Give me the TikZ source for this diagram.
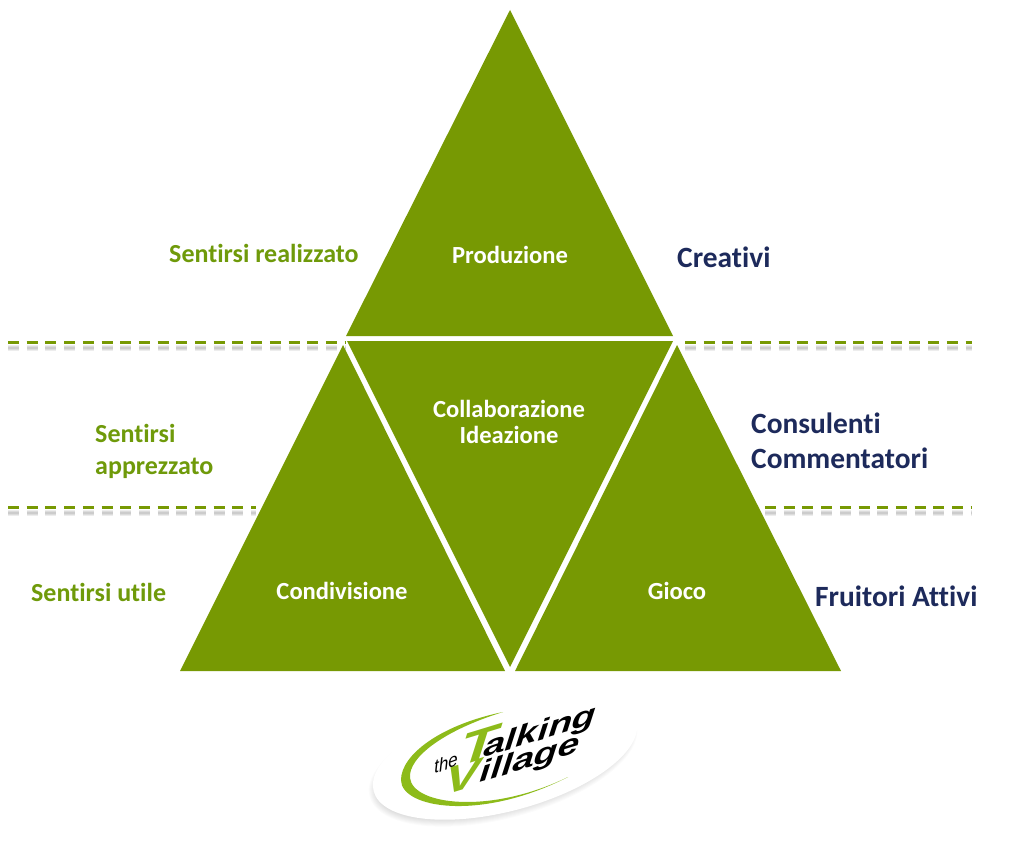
\documentclass[tikz,border=0pt]{standalone}
\usepackage{fontspec}
\setmainfont{Carlito}[Ligatures=NoCommon]
\newfontfamily\logofont{Liberation Sans}
\definecolor{leaf}{HTML}{779903}
\definecolor{leaftext}{HTML}{6F9A0A}
\definecolor{navy}{HTML}{1D2A5B}
\definecolor{lime}{HTML}{8DBB1A}
\begin{document}
\begin{tikzpicture}[x=1pt,y=-1pt]
\tikzstyle{wedge}=[fill=leaf]
\tikzstyle{inside}=[text=white,font=\fontsize{24.6}{26}\selectfont\bfseries,align=center,inner sep=0pt]
\tikzstyle{feeling}=[text=leaftext,font=\fontsize{26}{32}\selectfont\bfseries,align=left,inner sep=0pt,anchor=west]
\tikzstyle{people}=[text=navy,font=\fontsize{29.4}{35}\selectfont\bfseries,align=left,inner sep=0pt,anchor=west]
\tikzstyle{level}=[draw=leaf,line width=3pt,dash pattern=on 11pt off 7.7pt]
\tikzstyle{levelshadow}=[draw=black,opacity=0.07,dash pattern=on 11pt off 7.7pt]
\tikzstyle{brand}=[inner sep=0pt,rotate=17,xslant=0.4,xscale=1.5]
\useasboundingbox (0,0) rectangle (1024,850);
\fill[white] (0,0) rectangle (1024,850);

% levels
\path (8,342) coordinate(a0) (345,342) coordinate(a1) (685,342) coordinate(a2) (972,342) coordinate(a3);
\path (8,507) coordinate(b0) (256,507) coordinate(b1) (765,507) coordinate(b2) (972,507) coordinate(b3);
\foreach \w in {6,4,2}{
\draw[levelshadow,line width=\w pt] ([yshift=-6pt]a0) -- ([yshift=-6pt]a1) ([yshift=-6pt]a2) -- ([yshift=-6pt]a3);
\draw[levelshadow,line width=\w pt] ([yshift=-6pt]b0) -- ([yshift=-6pt]b1) ([yshift=-6pt]b2) -- ([yshift=-6pt]b3);
}
\draw[level] (a0) -- (a1);
\draw[level] (a2) -- (a3);
\draw[level] (b0) -- (b1);
\draw[level] (b2) -- (b3);

% triangles
\fill[wedge] (510,10) -- (673,336) -- (346,336) -- cycle;
\fill[wedge] (343,345) -- (505,671) -- (180,671) -- cycle;
\fill[wedge] (347,341) -- (673,341) -- (510,667) -- cycle;
\fill[wedge] (677,345) -- (841,671) -- (515,671) -- cycle;

\path (510,255) node[inside](prod){Produzione};
\path (509,422) node[inside](collab){Collaborazione\\Ideazione};
\path (342,591) node[inside](cond){Condivisione};
\path (677,591) node[inside](game){Gioco};

\path (169,253) node[feeling](real){Sentirsi realizzato};
\path (95,451) node[feeling](appr){Sentirsi\\apprezzato};
\path (31,592) node[feeling](useful){Sentirsi utile};

\path (677,257) node[people](creat){Creativi};
\path (751,441) node[people](cons){Consulenti\\Commentatori};
\path (815,596) node[people](fruit){Fruitori Attivi};

% logo
\foreach \w in {1,...,8}{
\fill[black,opacity=0.014,rotate around={15:(503,761)}] (503,761) ellipse ({130+\w} and {49+\w});
}
\fill[white,rotate around={15:(505,756)}] (505,756) ellipse (136 and 55);
\fill[lime] (503,712) .. controls (440,725) and (401,755) .. (401,780) .. controls (401,808) and (480,822) .. (568,777) .. controls (490,815) and (413,805) .. (410,778) .. controls (408,757) and (445,730) .. (503,712) -- cycle;
\path (479,745) node[brand,text=lime,font=\logofont\bfseries\itshape\fontsize{42}{42}\selectfont](tee){T};
\path (463,777) node[brand,text=lime,font=\logofont\bfseries\itshape\fontsize{36}{36}\selectfont](vee){V};
\path (446,763) node[inner sep=0pt,rotate=20,xslant=0.3,font=\logofont\itshape\fontsize{18}{18}\selectfont](the){the};
\path (540,733) node[brand,font=\logofont\bfseries\itshape\fontsize{27}{27}\selectfont](alk){alking};
\path (530,760) node[brand,font=\logofont\bfseries\itshape\fontsize{27}{27}\selectfont](vil){illage};
\end{tikzpicture}
\end{document}
